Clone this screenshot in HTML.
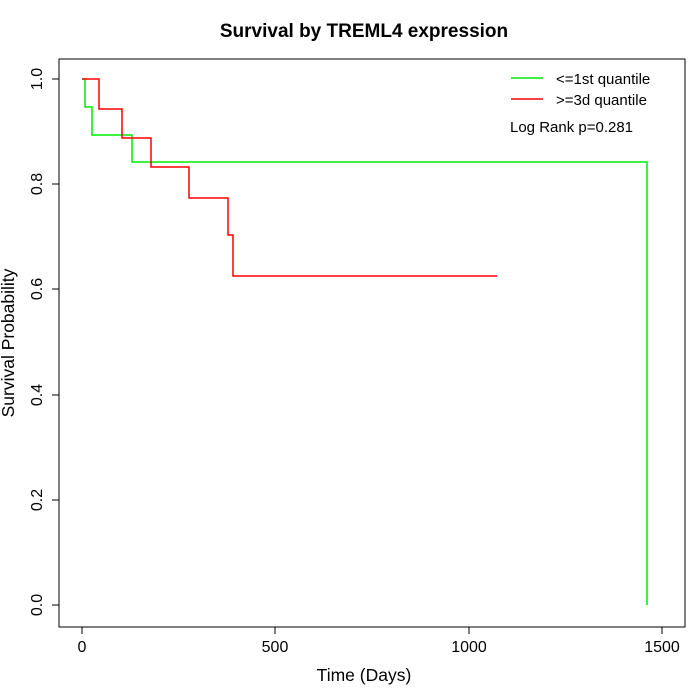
<!DOCTYPE html>
<html><head><meta charset="utf-8"><style>body{margin:0;background:#fff}svg{display:block}</style></head><body>
<svg width="700" height="700" xmlns="http://www.w3.org/2000/svg" font-family="Liberation Sans, sans-serif">
<rect width="700" height="700" fill="#fff"/>
<text x="364" y="37" font-size="19" font-weight="bold" text-anchor="middle">Survival by TREML4 expression</text>
<rect x="59" y="59" width="626" height="568" fill="none" stroke="#000" stroke-width="1"/>
<g stroke="#000" stroke-width="1">
<line x1="82" y1="627" x2="662" y2="627"/>
<line x1="82" y1="627" x2="82" y2="634"/><line x1="275" y1="627" x2="275" y2="634"/><line x1="469" y1="627" x2="469" y2="634"/><line x1="662" y1="627" x2="662" y2="634"/>
<line x1="59" y1="79" x2="59" y2="605"/>
<line x1="52" y1="79" x2="59" y2="79"/><line x1="52" y1="184" x2="59" y2="184"/><line x1="52" y1="289" x2="59" y2="289"/><line x1="52" y1="395" x2="59" y2="395"/><line x1="52" y1="500" x2="59" y2="500"/><line x1="52" y1="605" x2="59" y2="605"/>
</g>
<g font-size="16" text-anchor="middle">
<text x="82" y="652">0</text><text x="275" y="652">500</text><text x="469" y="652">1000</text><text x="662" y="652">1500</text>
<text x="364" y="681" font-size="17.5">Time (Days)</text>
</g>
<g font-size="16" text-anchor="middle">
<text transform="translate(42,79) rotate(-90)">1.0</text>
<text transform="translate(42,184) rotate(-90)">0.8</text>
<text transform="translate(42,289) rotate(-90)">0.6</text>
<text transform="translate(42,395) rotate(-90)">0.4</text>
<text transform="translate(42,500) rotate(-90)">0.2</text>
<text transform="translate(42,605) rotate(-90)">0.0</text>
<text transform="translate(14,343) rotate(-90)" font-size="17.5">Survival Probability</text>
</g>
<polyline fill="none" stroke="#00ee00" stroke-width="1.5" points="82,79 85,79 85,107 92,107 92,135 132,135 132,162 647,162 647,605"/>
<polyline fill="none" stroke="#ff0000" stroke-width="1.5" points="82,79 99,79 99,109 122,109 122,138 151,138 151,167 189,167 189,198 228,198 228,235 233,235 233,276 497,276"/>
<line x1="511" y1="78" x2="543" y2="78" stroke="#00ee00" stroke-width="1.5"/>
<line x1="511" y1="99" x2="543" y2="99" stroke="#ff0000" stroke-width="1.5"/>
<g font-size="15">
<text x="556" y="84">&lt;=1st quantile</text>
<text x="556" y="105">&gt;=3d quantile</text>
<text x="510" y="132">Log Rank p=0.281</text>
</g>
</svg>
</body></html>
